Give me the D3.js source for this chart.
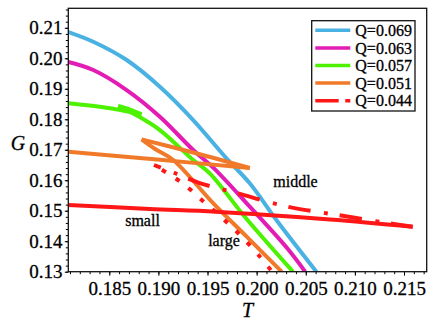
<!DOCTYPE html>
<html>
<head>
<meta charset="utf-8">
<script src="https://cdn.jsdelivr.net/npm/d3@7"></script>
<style>
  body { margin: 0; background: #fff; }
  svg { display: block; }
  svg text { font-family: "Liberation Serif", "Times New Roman", serif; fill: #000; stroke: #000; stroke-width: 0.3px; }
</style>
</head>
<body>
<div id="chart"></div>
<script>
// values: [T, G]
var qLabels = ["Q=0.069", "Q=0.063", "Q=0.057", "Q=0.051", "Q=0.044"];
var qColors = ["#4ab2e2", "#e21cb4", "#4cf200", "#f07a2a", "#ff1616"];
var tickT = [0.185, 0.190, 0.195, 0.200, 0.205, 0.210, 0.215];
var tickG = [0.13, 0.14, 0.15, 0.16, 0.17, 0.18, 0.19, 0.20, 0.21];

var q069 = [[0.18083,0.20862],[0.18337,0.20543],[0.18677,0.19943],[0.19015,0.19067],[0.19354,0.17975],
            [0.19693,0.16719],[0.19930,0.15899],[0.20201,0.14696],[0.20608,0.13]];
var q063 = [[0.18083,0.19877],[0.18337,0.19615],[0.18677,0.18959],[0.19015,0.18084],[0.19354,0.16992],
            [0.19566,0.16391],[0.19930,0.15132],[0.20326,0.13712],[0.20494,0.13]];

var q057Small  = [[0.18083,0.18523],[0.18456,0.18385],[0.18829,0.18162]];
var q057Middle = [[0.18829,0.18162],[0.18711,0.18320],[0.18591,0.18435]];
var q057Large  = [[0.18591,0.18435],[0.18762,0.18156],[0.19015,0.17647],[0.19354,0.16663],[0.19523,0.16227],
                  [0.19879,0.14804],[0.20370,0.13]];

var q051Small  = [[0.18083,0.16936],[0.19015,0.16670],[0.19930,0.16401]];
var q051Middle = [[0.19930,0.16401],[0.19383,0.16886],[0.18829,0.17342]];
var q051Large  = [[0.18829,0.17342],[0.18975,0.17008],[0.19151,0.16663],[0.19559,0.15243],[0.19899,0.14148],
                  [0.20255,0.13]];

var q044Small  = [[0.18083,0.15188],[0.18914,0.15056],[0.19586,0.14968],[0.20747,0.14712],[0.21588,0.14476]];
var q044Middle = [[0.18955,0.16500],[0.19179,0.16221],[0.19413,0.15916],[0.19807,0.15571],[0.20316,0.15132],
                  [0.20825,0.14860],[0.21350,0.14587],[0.21588,0.14476]];
var q044Large  = [[0.18955,0.16500],[0.19199,0.16008],[0.19321,0.15702],[0.19441,0.15352],[0.19559,0.15024],
                  [0.19797,0.14312],[0.20034,0.13492],[0.20156,0.13]];

var serif = "'Liberation Serif', 'Times New Roman', serif";

function init(){
    var w = 436;
    var h = 327;
    var left = 68.3, right = 426.7, top = 8.3, bottom = 271.7;

    var svg = d3.select("#chart")
                .append("svg")
                .attr("width", w)
                .attr("height", h);

    var x = d3.scaleLinear().domain([0.18083, 0.21731]).range([left, right]);
    var y = d3.scaleLinear().domain([0.13, 0.2164]).range([bottom, top]);

    // minor ticks
    svg.append("g")
        .attr("transform", "translate(0," + bottom + ")")
        .call(d3.axisBottom(x).tickValues(d3.range(181, 218).map(function(v){ return v / 1000; }))
              .tickSize(2.5).tickFormat(""))
        .call(function(g){ g.select(".domain").remove(); });
    svg.append("g")
        .attr("transform", "translate(" + left + ",0)")
        .call(d3.axisLeft(y).tickValues(d3.range(65, 109).map(function(v){ return v / 500; }))
              .tickSize(2.5).tickFormat(""))
        .call(function(g){ g.select(".domain").remove(); });

    // major ticks + labels
    var xAxis = svg.append("g")
        .attr("transform", "translate(0," + bottom + ")")
        .call(d3.axisBottom(x).tickValues(tickT).tickFormat(d3.format(".3f")).tickSize(4).tickPadding(6))
        .attr("font-size", 19)
        .attr("font-family", serif);
    xAxis.select(".domain").remove();

    var yAxis = svg.append("g")
        .attr("transform", "translate(" + left + ",0)")
        .call(d3.axisLeft(y).tickValues(tickG).tickFormat(d3.format(".2f")).tickSize(3.5).tickPadding(2.3))
        .attr("font-size", 19)
        .attr("font-family", serif);
    yAxis.select(".domain").remove();

    // axis titles
    svg.append("text").text("T")
        .attr("x", (left + right) / 2).attr("y", 316.5)
        .attr("text-anchor", "middle")
        .attr("font-size", 20).attr("font-style", "italic");
    svg.append("text").text("G")
        .attr("x", 18).attr("y", 149.5)
        .attr("text-anchor", "middle")
        .attr("font-size", 20).attr("font-style", "italic");

    // curves
    svg.append("clipPath").attr("id", "plotclip")
        .append("rect")
        .attr("x", left).attr("y", top)
        .attr("width", right - left).attr("height", bottom - top);

    var plot = svg.append("g").attr("clip-path", "url(#plotclip)");

    var line = d3.line()
        .x(function(d){ return x(d[0]); })
        .y(function(d){ return y(d[1]); })
        .curve(d3.curveCatmullRom.alpha(0.5));

    function draw(points, color, dash, offset){
        var p = plot.append("path")
            .attr("d", line(points))
            .attr("fill", "none")
            .attr("stroke", color)
            .attr("stroke-width", 4)
            .attr("stroke-linejoin", "round");
        if (dash) {
            p.attr("stroke-dasharray", dash).attr("stroke-dashoffset", offset);
        }
    }

    draw(q069, qColors[0]);
    draw(q063, qColors[1]);
    draw(q057Small, qColors[2]);
    draw(q057Middle, qColors[2]);
    draw(q057Large, qColors[2]);
    draw(q051Small, qColors[3]);
    draw(q051Middle, qColors[3]);
    draw(q051Large, qColors[3]);
    draw(q044Small, qColors[4]);
    draw(q044Middle, qColors[4], "22.5,13.5,4,12", 15);
    draw(q044Large, qColors[4], "4.5,11.5", 6.5);

    // frame
    svg.append("rect")
        .attr("x", left).attr("y", top)
        .attr("width", right - left).attr("height", bottom - top)
        .attr("fill", "none")
        .attr("stroke", "#111")
        .attr("stroke-width", 1.3);

    // phase labels
    svg.append("text").text("small").attr("x", 142.5).attr("y", 226)
        .attr("text-anchor", "middle").attr("font-size", 16);
    svg.append("text").text("large").attr("x", 224).attr("y", 245.5)
        .attr("text-anchor", "middle").attr("font-size", 16);
    svg.append("text").text("middle").attr("x", 295.5).attr("y", 186.5)
        .attr("text-anchor", "middle").attr("font-size", 16);

    // legend
    var legend = svg.append("g");
    legend.append("rect")
        .attr("x", 311.7).attr("y", 20.7)
        .attr("width", 103.3).attr("height", 90.3)
        .attr("fill", "#fff")
        .attr("stroke", "#111")
        .attr("stroke-width", 1.3);

    var rows = legend.selectAll("g.row")
        .data(qLabels)
        .enter()
        .append("g")
        .attr("class", "row")
        .attr("transform", function(d, i){ return "translate(0," + (30.3 + i * 17.6) + ")"; });

    rows.append("line")
        .attr("x1", 315.3).attr("x2", 350.3)
        .attr("y1", 0).attr("y2", 0)
        .attr("stroke", function(d, i){ return qColors[i]; })
        .attr("stroke-width", 3.5)
        .attr("stroke-dasharray", function(d, i){ return i === 4 ? "23.4,6.6,5,100" : null; });

    rows.append("text")
        .text(function(d){ return d; })
        .attr("x", 355.3)
        .attr("y", 5.7)
        .attr("font-size", 16);
}
window.onload = init;
</script>
</body>
</html>
